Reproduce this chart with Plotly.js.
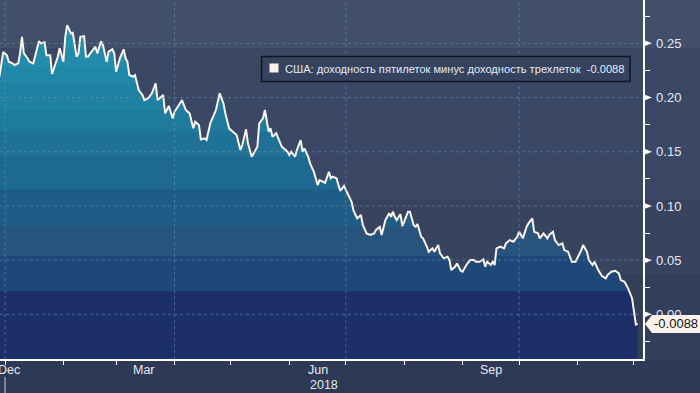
<!DOCTYPE html>
<html><head><meta charset="utf-8">
<script src="https://cdn.plot.ly/plotly-3.0.1.min.js"></script>
<style>html,body{margin:0;padding:0;background:#2e3a55;overflow:hidden}#chart{width:700px;height:393px}</style>
</head><body><div id="chart"></div>
<script>
// ---------- DATA ----------
const dates = ['2017-12-29','2017-12-31','2018-01-02','2018-01-03','2018-01-05','2018-01-06','2018-01-08','2018-01-09','2018-01-10','2018-01-11','2018-01-13','2018-01-14','2018-01-16','2018-01-18','2018-01-19','2018-01-20','2018-01-22','2018-01-23','2018-01-25','2018-01-26','2018-01-28','2018-01-29','2018-01-30',
'2018-02-01','2018-02-02','2018-02-03','2018-02-05','2018-02-06','2018-02-08','2018-02-09','2018-02-10','2018-02-12','2018-02-13','2018-02-14','2018-02-16','2018-02-18','2018-02-19','2018-02-21','2018-02-22','2018-02-24','2018-02-25','2018-02-27','2018-02-28',
'2018-03-01','2018-03-03','2018-03-05','2018-03-06','2018-03-07','2018-03-08','2018-03-10','2018-03-11','2018-03-13','2018-03-15','2018-03-16','2018-03-18','2018-03-20','2018-03-22','2018-03-23','2018-03-25','2018-03-26','2018-03-27','2018-03-29','2018-03-31',
'2018-04-01','2018-04-03','2018-04-05','2018-04-07','2018-04-09','2018-04-11','2018-04-12','2018-04-14','2018-04-15','2018-04-17','2018-04-18','2018-04-20','2018-04-22','2018-04-23','2018-04-25','2018-04-27','2018-04-28','2018-04-30',
'2018-05-02','2018-05-04','2018-05-06','2018-05-07','2018-05-09','2018-05-10','2018-05-12','2018-05-13','2018-05-15','2018-05-16','2018-05-18','2018-05-19','2018-05-21','2018-05-22','2018-05-23','2018-05-25','2018-05-27','2018-05-28','2018-05-31',
'2018-06-01','2018-06-02','2018-06-04','2018-06-05','2018-06-07','2018-06-08','2018-06-09','2018-06-11','2018-06-12','2018-06-14','2018-06-16','2018-06-17','2018-06-19','2018-06-20','2018-06-22','2018-06-23','2018-06-24','2018-06-26','2018-06-28','2018-06-30',
'2018-07-01','2018-07-02','2018-07-04','2018-07-05','2018-07-07','2018-07-09','2018-07-10','2018-07-12','2018-07-14','2018-07-16','2018-07-17','2018-07-19','2018-07-20','2018-07-22','2018-07-24','2018-07-25','2018-07-26','2018-07-27','2018-07-28','2018-07-30','2018-07-31',
'2018-08-01','2018-08-03','2018-08-04','2018-08-06','2018-08-07','2018-08-08','2018-08-10','2018-08-11','2018-08-13','2018-08-14','2018-08-16','2018-08-17','2018-08-19','2018-08-20','2018-08-22','2018-08-24','2018-08-25','2018-08-26','2018-08-28','2018-08-29','2018-08-31',
'2018-09-01','2018-09-03','2018-09-05','2018-09-07','2018-09-08','2018-09-10','2018-09-12','2018-09-13','2018-09-14','2018-09-16','2018-09-17','2018-09-18','2018-09-19','2018-09-21','2018-09-23','2018-09-24','2018-09-26','2018-09-28','2018-09-30',
'2018-10-01','2018-10-03','2018-10-05','2018-10-06','2018-10-08','2018-10-09','2018-10-11','2018-10-12','2018-10-14','2018-10-16','2018-10-17','2018-10-19','2018-10-20','2018-10-22','2018-10-24','2018-10-25','2018-10-27','2018-10-29','2018-10-31',
'2018-11-01','2018-11-03','2018-11-04','2018-11-06','2018-11-07','2018-11-09','2018-11-10','2018-11-12','2018-11-14','2018-11-16','2018-11-17','2018-11-19','2018-11-21','2018-11-23','2018-11-24','2018-11-26','2018-11-28','2018-11-30','2018-12-02','2018-12-03'];

const spread = [0.219,0.242,0.239,0.233,0.2315,0.230,0.2315,0.241,0.256,0.241,0.236,0.233,0.2315,0.244,0.252,0.250,0.251,0.239,0.239,0.2217,0.2315,0.2377,0.2454,
0.2330,0.256,0.2669,0.2592,0.2598,0.2377,0.2408,0.2561,0.2567,0.2377,0.2377,0.2423,0.2469,0.2408,0.252,0.2484,0.2330,0.2423,0.2445,0.2408,
0.2238,0.2362,0.2445,0.2362,0.2330,0.2208,0.2192,0.2208,0.2069,0.2023,0.1977,0.1993,0.2039,0.2131,0.1977,0.2008,0.2023,0.1854,0.1922,0.1808,
0.1869,0.1922,0.1977,0.1885,0.1854,0.1716,0.1777,0.1746,0.1614,0.1624,0.1608,0.1762,0.1839,0.1885,0.2039,0.1946,0.1854,0.1716,
0.1685,0.1654,0.1516,0.1562,0.1707,0.1578,0.1454,0.1485,0.1546,0.1762,0.1808,0.1885,0.1685,0.1716,0.1638,0.1670,0.1592,0.1546,0.1500,
0.1470,0.1500,0.1454,0.1516,0.1608,0.1500,0.1531,0.1454,0.1393,0.1315,0.1193,0.1239,0.1223,0.1214,0.1315,0.1255,0.1270,0.1255,0.1140,0.1184,
0.1147,0.1114,0.1040,0.0962,0.0886,0.0916,0.0824,0.0747,0.0732,0.0747,0.0778,0.0808,0.0732,0.0870,0.0932,0.0900,0.0947,0.0900,0.0870,0.0925,0.0815,
0.0855,0.0947,0.0947,0.0824,0.0808,0.0833,0.0716,0.0701,0.0624,0.0578,0.0609,0.0578,0.0639,0.0563,0.0517,0.0532,0.0501,0.0409,0.0439,0.0470,0.0402,
0.0393,0.0455,0.0501,0.0501,0.0485,0.0485,0.0507,0.0439,0.0485,0.0455,0.0485,0.0455,0.0609,0.0624,0.0609,0.0655,0.0685,0.0670,0.0716,
0.0762,0.0701,0.0808,0.0839,0.0886,0.0762,0.0747,0.0701,0.0747,0.0701,0.0732,0.0762,0.0685,0.0639,0.0655,0.0593,0.0578,0.0485,0.0485,
0.0517,0.0593,0.0639,0.0578,0.0501,0.0455,0.0485,0.0409,0.0353,0.0332,0.0363,0.0393,0.0402,0.0378,0.0316,0.0301,0.0235,0.0147,-0.0095,-0.0088];

const seriesName = 'США: доходность пятилеток минус доходность трехлеток';
const lastValueText = '-0.0088';
const monthStarts = ['2018-01-01','2018-02-01','2018-03-01','2018-04-01','2018-05-01','2018-06-01','2018-07-01','2018-08-01','2018-09-01','2018-10-01','2018-11-01','2018-12-01'];
const gridDates = ['2018-01-01','2018-04-01','2018-07-01','2018-10-01'];
const monthLabels = ['Mar','Jun','Sep'];
const monthLabelDates = ['2018-03-16','2018-06-16','2018-09-16'];
const prevMonthLabel = 'Dec';
const yearLabel = '2018';
const yearStart = '2018-01-01';
const yTickVals = [0, 0.05, 0.10, 0.15, 0.20, 0.25];

// ---------- STYLE ----------
const yRange = [-0.0412, 0.290];
const xRange = ['2017-12-29 08:00', '2018-12-05 19:00'];
const FONT = 'Liberation Sans, Arial, sans-serif';
const LABEL = '#e3eaf3';
const PW = 643, PH = 359; // plot size px
const bandEdges = [0.0215, 0.0538, 0.0805, 0.1156, 0.1451, 0.1682, 0.1884, 0.2133, 0.2281, 0.2457];
const bandColors = ['#1c2f69','#1f4878','#27537d','#1f5d87','#1e6990','#1f7296','#1f7b9c','#2082a2','#2187a6','#228caa','#2390ad'];
const span = yRange[1]-yRange[0];
const cs = [];
bandColors.forEach((c,i)=>{
  const lo = i===0 ? 0 : (bandEdges[i-1]-yRange[0])/span;
  const hi = i===bandColors.length-1 ? 1 : (bandEdges[i]-yRange[0])/span;
  cs.push([lo,c]); cs.push([hi,c]);
});

const bgBands = [
  {lo:0.2457, hi:yRange[1], c:'#414f6a'},
  {lo:0.105, hi:0.2457, c:'#3b4865'},
  {lo:0.0373, hi:0.105, c:'#38445f'},
  {lo:yRange[0], hi:0.0373, c:'#333e5a'}
];

const traces = [
  {x:dates, y:dates.map(()=>yRange[0]-0.05), mode:'lines', line:{width:0}, hoverinfo:'skip', showlegend:false},
  {x:dates, y:spread, mode:'lines', fill:'tonexty',
   fillgradient:{type:'vertical', start:yRange[0], stop:yRange[1], colorscale:cs},
   line:{color:'#fcf3ec', width:2}, showlegend:false, name:seriesName}
];

const px2x = p => p/PW, px2y = p => 1 - p/PH;
const shapes = [];
bgBands.forEach(b=>shapes.push({type:'rect', layer:'below', xref:'paper', yref:'y', x0:0, x1:700/PW, y0:b.lo, y1:b.hi, fillcolor:b.c, line:{width:0}}));
const gridColor = 'rgba(105,150,180,0.55)';
yTickVals.forEach(v=>shapes.push({type:'line', layer:'above', xref:'paper', yref:'y', x0:0, x1:1, y0:v, y1:v, line:{color:gridColor, width:1, dash:'dot'}}));
gridDates.forEach(d=>shapes.push({type:'line', layer:'above', xref:'x', yref:'paper', x0:d, x1:d, y0:0, y1:1, line:{color:gridColor, width:1, dash:'dot'}}));
// tick flags on y axis
yTickVals.forEach(v=>shapes.push({type:'path', layer:'above', xref:'paper', yref:'y', xsizemode:'pixel', ysizemode:'pixel', xanchor:1, yanchor:v,
  path:'M0,-3.5 L9,0 L0,3.5 Z', fillcolor:'#ffffff', line:{width:0}}));
// year separator
shapes.push({type:'line', xref:'x', yref:'paper', x0:yearStart, x1:yearStart, y0:-0.05, y1:-0.1, line:{color:'#c8ced8', width:1}});
// last value tag
const lastY = spread[spread.length-1];
shapes.push({type:'path', layer:'above', xref:'paper', yref:'y', xsizemode:'pixel', ysizemode:'pixel', xanchor:1, yanchor:lastY,
  path:'M2,0 L9,9 L60,9 L60,-9 L9,-9 Z', fillcolor:'#fdf3ea', line:{width:0}});
// legend box and swatch
shapes.push({type:'rect', layer:'above', xref:'paper', yref:'paper', x0:px2x(261.5), x1:px2x(630), y0:px2y(81.5), y1:px2y(56.5),
  fillcolor:'#36435f', line:{color:'#10151f', width:1.5}});
shapes.push({type:'rect', layer:'above', xref:'paper', yref:'paper', x0:px2x(269.5), x1:px2x(278.5), y0:px2y(72.5), y1:px2y(63.5),
  fillcolor:'#fcefe8', line:{width:0}});

const annotations = [
  {xref:'paper', yref:'paper', x:px2x(282.5), y:px2y(69), xanchor:'left', yanchor:'middle', showarrow:false,
   text:seriesName+'\u00a0\u00a0'+lastValueText, font:{family:FONT, size:11.1, color:LABEL}, align:'left'},
  {xref:'paper', yref:'y', x:1, y:lastY, xanchor:'left', yanchor:'middle', xshift:9, showarrow:false,
   text:lastValueText, font:{family:FONT, size:13, color:'#111'}},
  {xref:'paper', yref:'paper', x:0, y:-11/PH, xanchor:'left', yanchor:'middle', xshift:-4, showarrow:false,
   text:prevMonthLabel, font:{family:FONT, size:12.5, color:LABEL}}
];
monthLabels.forEach((m,i)=>annotations.push({xref:'x', yref:'paper', x:monthLabelDates[i], y:-11/PH, xanchor:'center', yanchor:'middle', showarrow:false,
  text:m, font:{family:FONT, size:12.5, color:LABEL}}));
const yc = new Date((Date.parse(yearStart)+Date.parse(xRange[1].replace(' ','T')))/2);
annotations.push({xref:'x', yref:'paper', x:yc.toISOString().slice(0,19).replace('T',' '), y:-26/PH, xanchor:'center', yanchor:'middle', showarrow:false,
  text:yearLabel, font:{family:FONT, size:12.5, color:LABEL}});

const layout = {
  width:700, height:393, margin:{l:0, r:57, t:0, b:34},
  paper_bgcolor:'#2e3a55', plot_bgcolor:'rgba(0,0,0,0)',
  showlegend:false,
  font:{family:FONT, color:LABEL},
  xaxis:{type:'date', range:xRange, tickmode:'array', tickvals:monthStarts, ticks:'outside', ticklen:4, tickcolor:'#ffffff', tickwidth:1,
    showticklabels:false, showline:true, linecolor:'#ffffff', linewidth:1.5, showgrid:false, zeroline:false},
  yaxis:{side:'right', range:yRange, tickmode:'linear', tick0:0, dtick:0.05, tickformat:'.2f', ticks:'', showline:true, linecolor:'#ffffff', linewidth:1.5,
    showgrid:false, zeroline:false, tickfont:{family:FONT, size:13, color:LABEL}, ticklabelstandoff:9,
    minor:{dtick:0.025, ticks:'outside', ticklen:5, tickcolor:'#ffffff', tickwidth:1, showgrid:false}},
  shapes:shapes, annotations:annotations
};
Plotly.newPlot('chart', traces, layout, {staticPlot:true, displayModeBar:false});
</script></body></html>
